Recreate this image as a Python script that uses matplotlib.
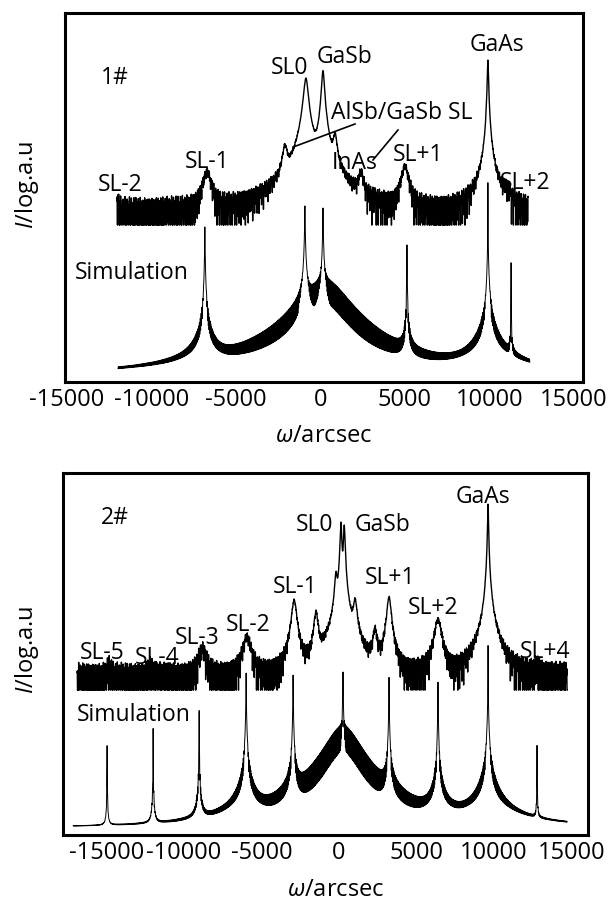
import numpy as np
import matplotlib.pyplot as plt

plt.rcParams['font.family'] = ['Open Sans', 'DejaVu Sans']
plt.rcParams['mathtext.fontset'] = 'custom'
plt.rcParams['mathtext.rm'] = 'Open Sans'
plt.rcParams['mathtext.it'] = 'Open Sans:italic'

# peak tables: position (arcsec), height (decades above the curve floor), width (arcsec)
# sample 1#, measured
s1_exp_pos = [-12030, -6700, -2090, -850, 160, 870, 2410, 5010, 9920, 11050]
s1_exp_h = [0.7, 1.75, 2.6, 4.9, 5.15, 3.0, 1.7, 1.95, 5.5, 0.9]
s1_exp_w = [100, 260, 150, 120, 75, 120, 150, 220, 30, 300]
s1_exp_broad_pos = [-300, 9920]
s1_exp_broad_h = [1.5, 1.3]
s1_exp_broad_w = [1700, 900]
s1_exp_range = (-12030, 12290)

# sample 1#, simulation
s1_sim_pos = [-6830, -910, 160, 5130, 9920, 11290]
s1_sim_h = [5.0, 5.7, 5.63, 4.4, 6.5, 3.83]
s1_sim_w = [8, 10, 10, 6, 2, 3]
s1_sim_broad_pos = [300]
s1_sim_broad_h = [3.2]
s1_sim_broad_w = [1300]
s1_sim_range = (-11970, 12400)

# sample 2#, measured
s2_exp_pos = [-14840, -12200, -8830, -5940, -2900, -1490, -200, 120, 330,
              1030, 2320, 3220, 6380, 9610, 12770]
s2_exp_h = [0.6, 0.5, 1.35, 1.75, 3.0, 2.6, 3.9, 5.6, 5.5,
            3.0, 2.0, 3.1, 2.35, 6.2, 0.6]
s2_exp_w = [150, 200, 280, 280, 150, 130, 80, 45, 45,
            120, 140, 130, 220, 25, 250]
s2_exp_broad_pos = [0, 9610]
s2_exp_broad_h = [1.2, 1.4]
s2_exp_broad_w = [1500, 900]
s2_exp_range = (-16900, 14710)

# sample 2#, simulation
s2_sim_pos = [-14970, -12000, -9030, -6000, -2970, 250, 3220, 6380, 9610, 12770]
s2_sim_h = [2.87, 3.33, 3.93, 5.17, 5.1, 5.2, 5.03, 4.87, 6.1, 2.87]
s2_sim_w = [4, 4, 5, 7, 7, 8, 7, 7, 3, 4]
s2_sim_broad_pos = [250]
s2_sim_broad_h = [3.4]
s2_sim_broad_w = [1080]
s2_sim_range = (-17160, 14710)

tick_values = [-15000, -10000, -5000, 0, 5000, 10000, 15000]

EXP_SHAPE = 1.5      # Pearson-VII exponent of measured peaks
SIM_SHAPE = 1.0      # Lorentzian simulated peaks
BROAD_SHAPE = 2.0
EXP_BG = 3.0         # background counts
EXP_NOISE = 3.2      # counting-noise factor
NOISE_PERIODS = [53.0, 131.0, 29.0]   # arcsec
FRINGE_P = 45.0      # thickness fringe period, arcsec
FRINGE_BEAT = 1300.0


def peaks(x, pos, h, w, q):
    out = np.zeros_like(x)
    for p, hh, ww in zip(pos, h, w):
        out += 10.0 ** hh / (1.0 + ((x - p) / ww) ** 2) ** q
    return out


def measured(rng, pos, h, w, bpos, bh, bw):
    x = np.arange(rng[0], rng[1], 1.5)
    inten = EXP_BG + peaks(x, pos, h, w, EXP_SHAPE) + peaks(x, bpos, bh, bw, BROAD_SHAPE)
    c = sum(np.cos(2 * np.pi * x / p + k * 1.3) for k, p in enumerate(NOISE_PERIODS)) / 3
    counts = inten + EXP_NOISE * np.sqrt(inten) * c
    return x, np.log10(np.clip(counts, 1.0, None))


def simulated(rng, pos, h, w, bpos, bh, bw):
    x = np.arange(rng[0], rng[1], 1.5)
    s = 0.5 * (1 - np.cos(2 * np.pi * x / FRINGE_P + 3.0 * np.sin(2 * np.pi * x / FRINGE_BEAT)))
    sharp = peaks(x, pos, h, w, SIM_SHAPE)
    broad = peaks(x, bpos, bh, bw, BROAD_SHAPE)
    sharp = sharp - 0.7 * s * np.minimum(sharp ** 2 / (sharp + 5.0), 300.0)
    broad = broad * (1 - 0.88 * s)
    return x, np.log10(1.0 + sharp + broad)


fig = plt.figure(figsize=(6.13, 9.02), dpi=100)
ax1 = fig.add_axes([0.106, 0.5765, 0.845, 0.4091])
ax2 = fig.add_axes([0.1028, 0.0743, 0.8564, 0.4013])

# panel 1#
x, y = measured(s1_exp_range, s1_exp_pos, s1_exp_h, s1_exp_w,
                s1_exp_broad_pos, s1_exp_broad_h, s1_exp_broad_w)
ax1.plot(x, y + 5.23, color='k', lw=1.0)
x, y = simulated(s1_sim_range, s1_sim_pos, s1_sim_h, s1_sim_w,
                 s1_sim_broad_pos, s1_sim_broad_h, s1_sim_broad_w)
ax1.plot(x, y + 0.17, color='k', lw=0.7)
ax1.set_xlim(-15107, 15544)
ax1.set_ylim(0, 12.3)

fs = 16.5
ax1.text(-12148, 10.13, '1#', fontsize=fs, ha='center', va='center')
ax1.text(-1793, 10.47, 'SL0', fontsize=fs, ha='center', va='center')
ax1.text(1462, 10.83, 'GaSb', fontsize=fs, ha='center', va='center')
ax1.text(10456, 11.23, 'GaAs', fontsize=fs, ha='center', va='center')
ax1.text(4834, 8.97, 'AlSb/GaSb SL', fontsize=fs, ha='center', va='center')
ax1.text(2053, 7.3, 'InAs', fontsize=fs, ha='center', va='center')
ax1.text(5781, 7.57, 'SL+1', fontsize=fs, ha='center', va='center')
ax1.text(12112, 6.63, 'SL+2', fontsize=fs, ha='center', va='center')
ax1.text(-6704, 7.33, 'SL-1', fontsize=fs, ha='center', va='center')
ax1.text(-11852, 6.57, 'SL-2', fontsize=fs, ha='center', va='center')
ax1.text(-11142, 3.63, 'Simulation', fontsize=fs, ha='center', va='center')
ax1.plot([2053, -1615], [8.6, 7.83], color='k', lw=1.2)
ax1.plot([4598, 3118], [8.4, 7.4], color='k', lw=1.2)

# panel 2#
x, y = measured(s2_exp_range, s2_exp_pos, s2_exp_h, s2_exp_w,
                s2_exp_broad_pos, s2_exp_broad_h, s2_exp_broad_w)
ax2.plot(x, y + 4.83, color='k', lw=1.0)
x, y = simulated(s2_sim_range, s2_sim_pos, s2_sim_h, s2_sim_w,
                 s2_sim_broad_pos, s2_sim_broad_h, s2_sim_broad_w)
ax2.plot(x, y + 0.23, color='k', lw=0.7)
ax2.set_xlim(-17813, 16058)
ax2.set_ylim(0, 12.07)

ax2.text(-14458, 10.57, '2#', fontsize=fs, ha='center', va='center')
ax2.text(-1555, 10.33, 'SL0', fontsize=fs, ha='center', va='center')
ax2.text(2768, 10.33, 'GaSb', fontsize=fs, ha='center', va='center')
ax2.text(9284, 11.27, 'GaAs', fontsize=fs, ha='center', va='center')
ax2.text(-2845, 8.27, 'SL-1', fontsize=fs, ha='center', va='center')
ax2.text(3284, 8.57, 'SL+1', fontsize=fs, ha='center', va='center')
ax2.text(6058, 7.57, 'SL+2', fontsize=fs, ha='center', va='center')
ax2.text(-5877, 7.0, 'SL-2', fontsize=fs, ha='center', va='center')
ax2.text(-9168, 6.57, 'SL-3', fontsize=fs, ha='center', va='center')
ax2.text(-11748, 5.9, 'SL-4', fontsize=fs, ha='center', va='center')
ax2.text(-15297, 6.07, 'SL-5', fontsize=fs, ha='center', va='center')
ax2.text(13284, 6.1, 'SL+4', fontsize=fs, ha='center', va='center')
ax2.text(-13232, 4.0, 'Simulation', fontsize=fs, ha='center', va='center')

for ax, lx, ly, xl in [(ax1, -0.073, 0.534, (0.5, -0.114)),
                       (ax2, -0.069, 0.511, (0.52, -0.119))]:
    ax.set_xticks(tick_values)
    ax.set_xticklabels([str(t) for t in tick_values])
    ax.set_yticks([])
    ax.tick_params(axis='x', length=0, pad=4, labelsize=17)
    for sp in ax.spines.values():
        sp.set_linewidth(2.2)
    ax.set_xlabel(r'$\omega$/arcsec', fontsize=17)
    ax.xaxis.set_label_coords(*xl)
    ax.text(lx, ly, r'$I$/log.a.u', fontsize=17, rotation=90,
            transform=ax.transAxes, ha='center', va='center')

fig.savefig('out.png', dpi=100)
